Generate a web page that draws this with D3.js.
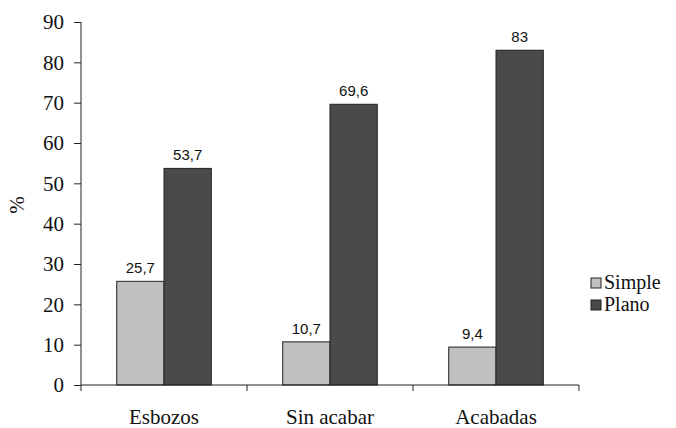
<!DOCTYPE html>
<head>
  <meta charset="utf-8">
  <script src="https://d3js.org/d3.v7.min.js"></script>
  <style>
    body { margin: 0; background: #fff; }
  </style>
</head>
<body>
  <script>
    var categories = ["Esbozos", "Sin acabar", "Acabadas"];
    var series = ["Simple", "Plano"];
    var simple = [25.7, 10.7, 9.4];
    var plano = [53.7, 69.6, 83];
    var valueLabels = [["25,7", "10,7", "9,4"], ["53,7", "69,6", "83"]];
    var yTicks = [0, 10, 20, 30, 40, 50, 60, 70, 80, 90];

    var width = 676, height = 428;
    var colors = {Simple: "#c0c0c0", Plano: "#4a4a4a"};
    var serif = '"Liberation Serif", "Times New Roman", serif';
    var sans = '"Liberation Sans", Arial, sans-serif';

    var svg = d3.select("body").append("svg")
        .attr("width", width)
        .attr("height", height);

    var y = d3.scaleLinear().domain([0, 90]).range([385, 22]);
    var x = d3.scaleBand().domain(categories).range([81, 579]).paddingInner(0).paddingOuter(0);
    var groupW = 94.6;
    var xs = d3.scaleBand().domain(series).range([0, groupW]);

    var data = series.map(function(s, i) {
      var vals = i == 0 ? simple : plano;
      return categories.map(function(c, j) {
        return {s: s, c: c, v: vals[j], label: valueLabels[i][j]};
      });
    });

    function barX(d) { return x(d.c) + (x.bandwidth() - groupW) / 2 + xs(d.s); }

    // bars + value labels
    data.forEach(function(row) {
      var g = svg.append("g");
      g.selectAll("rect").data(row).enter().append("rect")
        .attr("x", barX)
        .attr("y", function(d) { return y(d.v); })
        .attr("width", xs.bandwidth())
        .attr("height", function(d) { return y(0) - y(d.v); })
        .attr("fill", function(d) { return colors[d.s]; })
        .attr("stroke", "#222")
        .attr("stroke-width", 1);
      g.selectAll("text").data(row).enter().append("text")
        .style("font-family", sans)
        .style("font-size", "15px")
        .attr("fill", "#111")
        .attr("text-anchor", "middle")
        .attr("x", function(d) { return barX(d) + xs.bandwidth() / 2; })
        .attr("y", function(d) { return y(d.v) - 8; })
        .text(function(d) { return d.label; });
    });

    // y axis
    var yAxis = svg.append("g")
      .attr("transform", "translate(81,0)")
      .call(d3.axisLeft(y).tickValues(yTicks).tickSize(7).tickPadding(10).tickFormat(d3.format("d")));
    yAxis.select(".domain").attr("stroke", "#222").attr("d", "M0," + y(90) + "V" + y(0));
    yAxis.selectAll(".tick line").attr("stroke", "#222");
    yAxis.selectAll("text")
      .style("font-family", serif)
      .style("font-size", "21px")
      .attr("fill", "#111");

    // x axis line, ticks between groups
    var bounds = categories.map(function(c) { return x(c); }).concat([x.range()[1]]);
    svg.append("line")
      .attr("x1", x.range()[0]).attr("x2", x.range()[1])
      .attr("y1", y(0)).attr("y2", y(0))
      .attr("stroke", "#222");
    svg.selectAll(".xtick").data(bounds).enter().append("line")
      .attr("class", "xtick")
      .attr("x1", function(d) { return d; }).attr("x2", function(d) { return d; })
      .attr("y1", y(0)).attr("y2", y(0) + 6)
      .attr("stroke", "#222");
    svg.selectAll(".xlab").data(categories).enter().append("text")
      .attr("class", "xlab")
      .style("font-family", serif)
      .style("font-size", "21px")
      .attr("fill", "#111")
      .attr("text-anchor", "middle")
      .attr("x", function(d) { return x(d) + x.bandwidth() / 2; })
      .attr("y", 424)
      .text(function(d) { return d; });

    // y title
    svg.append("text")
      .style("font-family", serif)
      .style("font-size", "21px")
      .attr("fill", "#111")
      .attr("text-anchor", "middle")
      .attr("transform", "translate(24,205) rotate(-90)")
      .text("%");

    // legend
    var leg = svg.selectAll(".leg").data(series).enter().append("g")
      .attr("class", "leg")
      .attr("transform", function(d, i) { return "translate(591," + (278 + i * 22) + ")"; });
    leg.append("rect")
      .attr("width", 10).attr("height", 10)
      .attr("fill", function(d) { return colors[d]; })
      .attr("stroke", "#222");
    leg.append("text")
      .style("font-family", serif)
      .style("font-size", "20px")
      .attr("fill", "#111")
      .attr("x", 13).attr("y", 11)
      .text(function(d) { return d; });
  </script>
</body>
